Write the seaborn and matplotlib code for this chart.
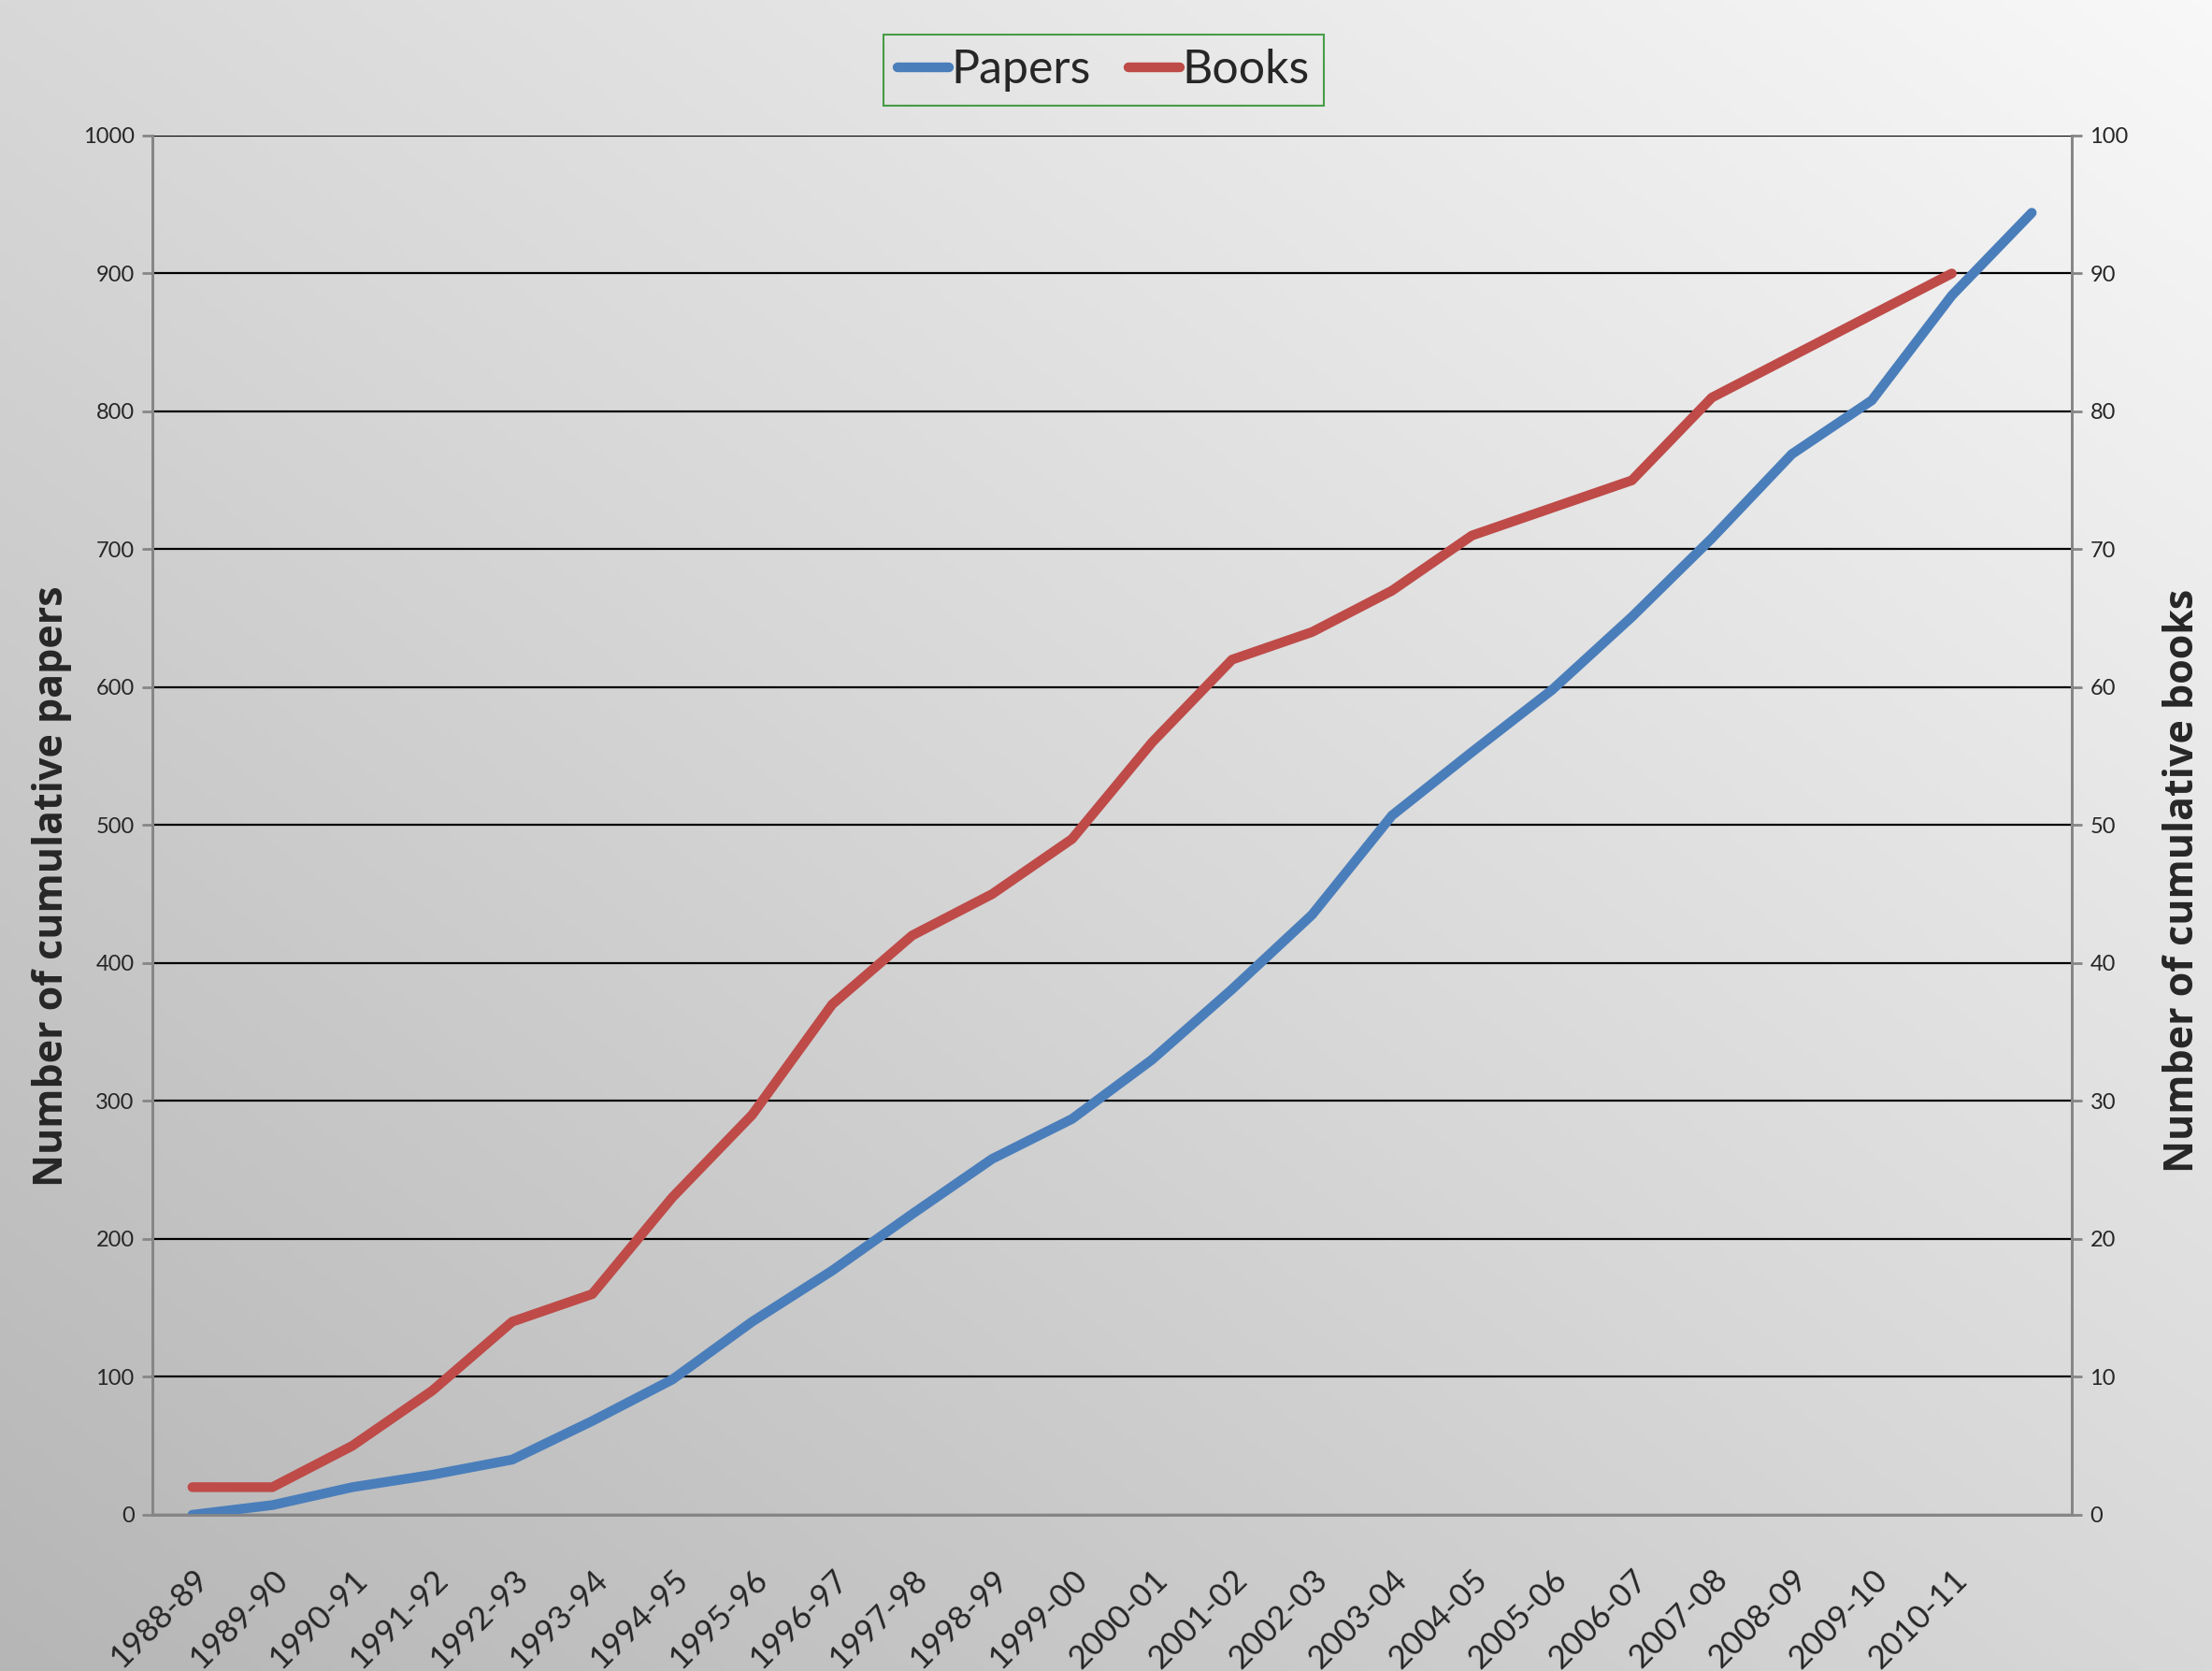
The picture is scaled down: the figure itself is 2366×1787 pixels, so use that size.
import numpy as np
import pandas as pd
import matplotlib
matplotlib.use("Agg")
import matplotlib.pyplot as plt
import seaborn as sns
from matplotlib.colors import LinearSegmentedColormap

# academic years (last point has no label on the axis)
seasons = ["1988-89", "1989-90", "1990-91", "1991-92", "1992-93", "1993-94",
           "1994-95", "1995-96", "1996-97", "1997-98", "1998-99", "1999-00",
           "2000-01", "2001-02", "2002-03", "2003-04", "2004-05", "2005-06",
           "2006-07", "2007-08", "2008-09", "2009-10", "2010-11", ""]

# cumulative counts
papers = [0, 7, 20, 29, 40, 68, 98, 140, 177, 218, 258, 287,
          330, 381, 435, 507, 553, 598, 651, 708, 769, 808, 884, 944]
books = [2, 2, 5, 9, 14, 16, 23, 29, 37, 42, 45, 49,
         56, 62, 64, 67, 71, 73, 75, 81, 84, 87, 90]

BLUE = "#4A7EBB"
RED = "#BE4B48"
AXIS_GRAY = "#868686"
LABEL_FONT = ["Open Sans", "DejaVu Sans"]

sns.set_theme(style="white")
plt.rcParams["font.family"] = ["Lato", "DejaVu Sans"]

fig = plt.figure(figsize=(23.66, 17.87), dpi=100)

# diagonal gray gradient behind everything
bg = fig.add_axes([0, 0, 1, 1], zorder=-10)
xx, yy = np.meshgrid(np.linspace(0, 1, 400), np.linspace(0, 1, 300))
grad = (xx + (1 - yy)) / 2
cmap = LinearSegmentedColormap.from_list("bg", ["#b6b6b6", "#d8d8d8", "#f8f8f8"])
bg.imshow(grad, cmap=cmap, aspect="auto", extent=[0, 1, 0, 1])
bg.axis("off")

ax = fig.add_axes([0.0689, 0.0935, 0.8677, 0.8254])
ax.set_facecolor("none")

df_p = pd.DataFrame({"pos": np.arange(len(papers)), "Papers": papers})
df_b = pd.DataFrame({"pos": np.arange(len(books)), "Books": books})

sns.lineplot(data=df_p, x="pos", y="Papers", ax=ax, color=BLUE, lw=7.5,
             solid_capstyle="round", solid_joinstyle="round", legend=False, zorder=3)
ax2 = ax.twinx()
ax2.set_facecolor("none")
sns.lineplot(data=df_b, x="pos", y="Books", ax=ax2, color=RED, lw=7.5,
             solid_capstyle="round", solid_joinstyle="round", legend=False, zorder=3)

ax.set_xlim(-0.5, len(seasons) - 0.5)
ax.set_ylim(0, 1000)
ax2.set_ylim(0, 100)
ax.set_yticks(range(0, 1001, 100))
ax2.set_yticks(range(0, 101, 10))

ax.set_axisbelow(True)
ax.yaxis.grid(True, color="black", lw=1.6)
ax.xaxis.grid(False)
ax2.grid(False)

# category labels centred, tick marks between categories
ax.set_xticks(np.arange(len(seasons)))
ax.set_xticklabels(seasons, rotation=45, ha="right", rotation_mode="anchor", fontsize=25)
ax.set_xticks(np.arange(-0.5, len(seasons), 1), minor=True)
ax.tick_params(axis="x", which="major", length=0, pad=38)
ax.tick_params(axis="x", which="minor", length=15, width=2, color=AXIS_GRAY, direction="out")
ax.tick_params(axis="y", length=8, width=2, color=AXIS_GRAY, labelsize=17, pad=6, left=True)
ax2.tick_params(axis="y", length=8, width=2, color=AXIS_GRAY, labelsize=17, pad=6, right=True)

for a in (ax, ax2):
    a.spines["top"].set_visible(False)
    for s in ("left", "right", "bottom"):
        a.spines[s].set_color(AXIS_GRAY)
        a.spines[s].set_linewidth(2)

ax.set_xlabel("")
ax.set_ylabel("Number of cumulative papers", fontsize=31, fontweight="bold", family=LABEL_FONT)
ax2.set_ylabel("Number of cumulative books", fontsize=31, fontweight="bold", family=LABEL_FONT)
for a, xpos, ypos in ((ax, -0.0526, 0.456), (ax2, 1.0575, 0.46)):
    a.yaxis.label.set_verticalalignment("center")
    a.yaxis.label.set_horizontalalignment("center")
    a.yaxis.set_label_coords(xpos, ypos)

handles = [ax.lines[0], ax2.lines[0]]
leg = fig.legend(handles, ["Papers", "Books"], loc="center", bbox_to_anchor=(0.499, 0.958),
                 ncol=2, fontsize=36, frameon=True, fancybox=False, handlelength=1.1,
                 handletextpad=0.05, columnspacing=0.8, borderpad=0.3)
leg.get_frame().set_edgecolor("#1E8B1E")
leg.get_frame().set_linewidth(1.5)
leg.get_frame().set_facecolor("none")

fig.savefig("out.png", dpi=100)
